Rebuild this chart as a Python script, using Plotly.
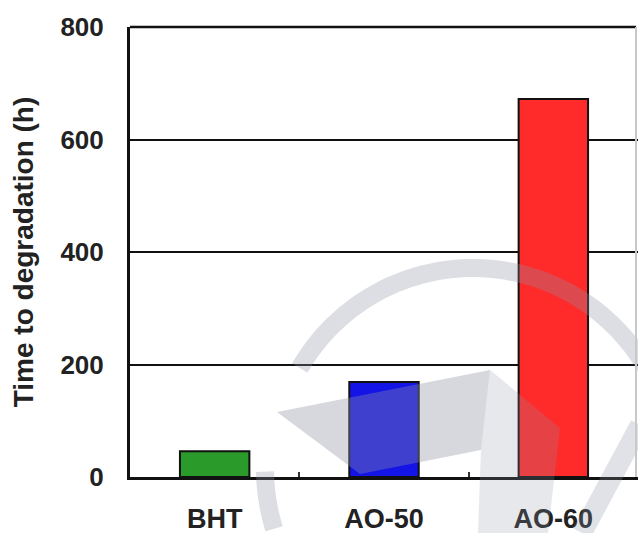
import numpy as np
import plotly.graph_objects as go

# Data
categories = ["BHT", "AO-50", "AO-60"]
hours = [46, 169, 672]
bar_colors = ["#2a9a2a", "#1414e6", "#ff2a2a"]
y_ticks = [0, 200, 400, 600, 800]

W, H = 638, 533
L, R, T, B = 130, 0, 27, 56
PW, PH = W - L - R, H - T - B

FONT = "Liberation Sans, Arial, sans-serif"


def px(x, y):
    """Convert page pixel position to paper coordinates."""
    return (x - L) / PW, (H - B - y) / PH


def poly_path(points, close=True):
    pts = [px(x, y) for x, y in points]
    d = "M " + " L ".join(f"{a:.4f},{b:.4f}" for a, b in pts)
    return d + (" Z" if close else "")


def arc_points(cx, cy, r, a0, a1, n=60):
    ang = np.radians(np.linspace(a0, a1, n))
    return [(cx + r * np.cos(a), cy - r * np.sin(a)) for a in ang]


fig = go.Figure(
    go.Bar(
        x=categories,
        y=hours,
        width=0.41,
        marker=dict(color=bar_colors, line=dict(color="#111111", width=2)),
        showlegend=False,
    )
)

# faint logo in the background
wm = "#8e94a4"
shapes = [
    dict(type="path", xref="paper", yref="paper", layer="above",
         path=poly_path(arc_points(473, 468, 200, 150, 18), close=False),
         line=dict(color=wm, width=18), opacity=0.3),
    dict(type="path", xref="paper", yref="paper", layer="above",
         path=poly_path(arc_points(473, 468, 208, 181, 197, 20), close=False),
         line=dict(color=wm, width=18), opacity=0.3),
    dict(type="path", xref="paper", yref="paper", layer="above",
         path=poly_path([(277, 412), (490, 370), (481, 450), (360, 474)]),
         fillcolor=wm, line=dict(width=0), opacity=0.36),
    dict(type="path", xref="paper", yref="paper", layer="above",
         path=poly_path([(490, 370), (560, 428), (548, 533), (478, 533), (481, 450)]),
         fillcolor=wm, line=dict(width=0), opacity=0.22),
    dict(type="path", xref="paper", yref="paper", layer="above",
         path=poly_path([(640, 425), (582, 533)], close=False),
         line=dict(color=wm, width=20), opacity=0.26),
    # top frame edge at 800
    dict(type="line", xref="paper", yref="paper", layer="below",
         x0=0, x1=px(636, 0)[0], y0=1, y1=1,
         line=dict(color="#111111", width=2.5)),
    # right frame edge
    dict(type="line", xref="paper", yref="paper", layer="above",
         x0=px(636, 0)[0], x1=px(636, 0)[0], y0=0, y1=1,
         line=dict(color="#c8c8c8", width=2)),
]

fig.update_layout(
    width=W, height=H,
    margin=dict(l=L, r=R, t=T, b=B, autoexpand=False),
    paper_bgcolor="white", plot_bgcolor="white",
    font=dict(family=FONT, color="#222222"),
    bargap=0.59,
    shapes=shapes,
)

fig.update_xaxes(
    type="category",
    range=[-0.5, 2.5],
    showline=True, linecolor="#111111", linewidth=3,
    showgrid=False, zeroline=False,
    ticks="inside", tickson="boundaries", ticklen=5, tickwidth=2, tickcolor="#333333",
    tickfont=dict(size=27, family=FONT, color="#222222", weight="bold"),
    ticklabelstandoff=16,
    automargin=False,
)

fig.update_yaxes(
    range=[0, 800],
    tickvals=y_ticks,
    showline=True, linecolor="#111111", linewidth=3,
    showgrid=True, gridcolor="#111111", gridwidth=2,
    zeroline=False, ticks="",
    tickfont=dict(size=26, family=FONT, color="#222222", weight="bold"),
    ticklabelstandoff=18,
    title=dict(text="Time to degradation (h)", standoff=19,
               font=dict(size=28, family=FONT, color="#222222", weight="bold")),
    automargin=False,
)

fig.write_html("out.html")
